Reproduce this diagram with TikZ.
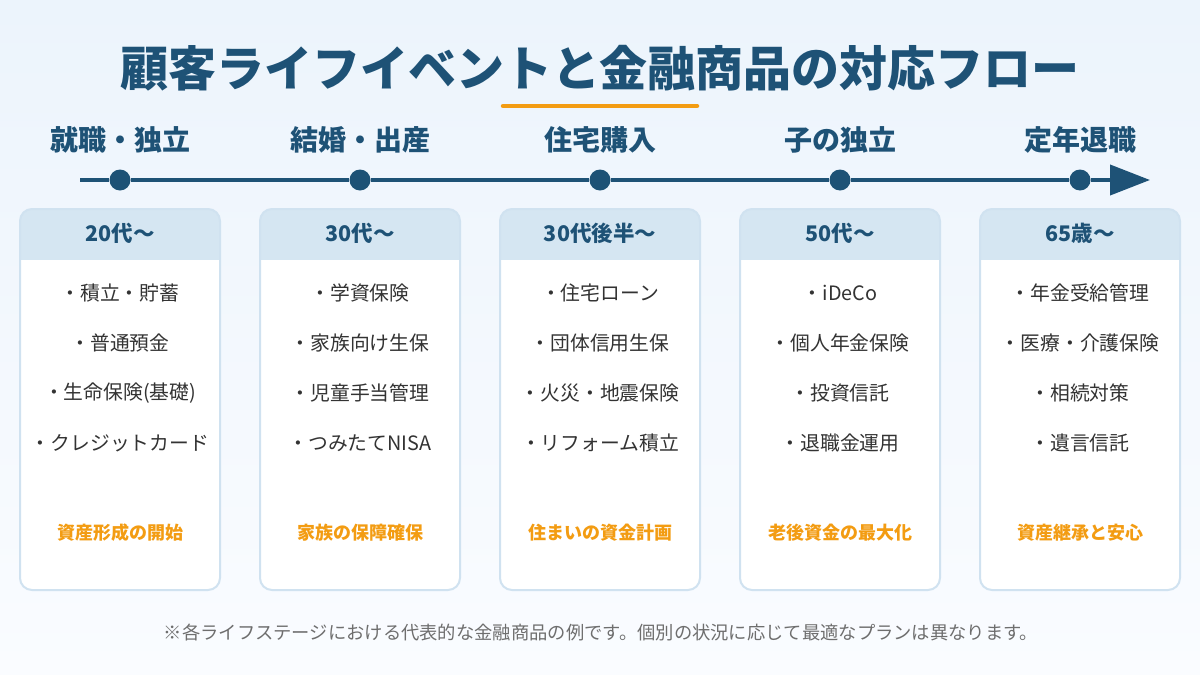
\documentclass[tikz,border=0pt]{standalone}
\usepackage{fontspec}
\setmainfont{Noto Sans CJK JP}
\usetikzlibrary{arrows.meta}
\definecolor{navy}{RGB}{30,82,118}
\definecolor{headblue}{RGB}{213,230,242}
\definecolor{cardline}{RGB}{208,226,240}
\definecolor{accent}{RGB}{243,156,18}
\definecolor{itemgray}{RGB}{51,51,51}
\definecolor{notegray}{RGB}{110,110,110}
\definecolor{bgtop}{RGB}{236,244,252}
\definecolor{bgbot}{RGB}{250,252,255}

\begin{document}
\begin{tikzpicture}[x=1pt,y=-1pt,
    stagelabel/.style={font=\fontsize{28}{32}\selectfont\bfseries,text=navy,inner sep=0pt},
    agelabel/.style={font=\fontsize{21.5}{25}\selectfont\bfseries,text=navy,inner sep=0pt},
    itemlabel/.style={font=\fontsize{19.8}{23}\selectfont,text=itemgray,inner sep=0pt},
    goallabel/.style={font=\fontsize{18}{21}\selectfont\bfseries,text=accent,inner sep=0pt},
    stagedot/.style={circle,fill=navy,minimum size=21pt,inner sep=0pt},
    cardframe/.style={draw=cardline,line width=2pt,rounded corners=12pt}]
        \useasboundingbox (0,0) rectangle (1200,675);
        \shade[top color=bgtop,bottom color=bgbot] (0,0) rectangle (1200,675);

        % title
        \node[font=\fontsize{48}{54}\selectfont\bfseries,text=navy,inner sep=0pt] (title) at (600,68) {顧客ライフイベントと金融商品の対応フロー};
        \coordinate (ul1) at (503,106);
        \coordinate (ul2) at (697,106);
        \draw[accent,line width=4.5pt,line cap=round] (ul1) -- (ul2);

        % timeline
        \coordinate (tstart) at (80,180);
        \coordinate (tend) at (1150,180);
        \node[stagedot] (d1) at (120,180) {};
        \node[stagedot] (d2) at (360,180) {};
        \node[stagedot] (d3) at (600,180) {};
        \node[stagedot] (d4) at (840,180) {};
        \node[stagedot] (d5) at (1080,180) {};
        \draw[navy,line width=4pt,-{Triangle[length=40pt,width=30pt]}] (tstart) -- (d1) -- (d2) -- (d3) -- (d4) -- (d5) -- (tend);

        \node[stagelabel] (s1) at (120,140) {就職・独立};
        \node[stagelabel] (s2) at (360,140) {結婚・出産};
        \node[stagelabel] (s3) at (600,140) {住宅購入};
        \node[stagelabel] (s4) at (840,140) {子の独立};
        \node[stagelabel] (s5) at (1080,140) {定年退職};

        % cards
        \begin{scope}
            \clip[rounded corners=12pt] (20,209) rectangle (220,590);
            \fill[white] (20,209) rectangle (220,590);
            \fill[headblue] (20,209) rectangle (220,260);
        \end{scope}
        \draw[cardframe] (20,209) rectangle (220,590);
        \begin{scope}
            \clip[rounded corners=12pt] (260,209) rectangle (460,590);
            \fill[white] (260,209) rectangle (460,590);
            \fill[headblue] (260,209) rectangle (460,260);
        \end{scope}
        \draw[cardframe] (260,209) rectangle (460,590);
        \begin{scope}
            \clip[rounded corners=12pt] (500,209) rectangle (700,590);
            \fill[white] (500,209) rectangle (700,590);
            \fill[headblue] (500,209) rectangle (700,260);
        \end{scope}
        \draw[cardframe] (500,209) rectangle (700,590);
        \begin{scope}
            \clip[rounded corners=12pt] (740,209) rectangle (940,590);
            \fill[white] (740,209) rectangle (940,590);
            \fill[headblue] (740,209) rectangle (940,260);
        \end{scope}
        \draw[cardframe] (740,209) rectangle (940,590);
        \begin{scope}
            \clip[rounded corners=12pt] (980,209) rectangle (1180,590);
            \fill[white] (980,209) rectangle (1180,590);
            \fill[headblue] (980,209) rectangle (1180,260);
        \end{scope}
        \draw[cardframe] (980,209) rectangle (1180,590);

        \node[agelabel] (h1) at (120,233) {20代〜};
        \node[itemlabel] (a1) at (120,293) {・積立・貯蓄};
        \node[itemlabel] (a2) at (120,343) {・普通預金};
        \node[itemlabel] (a3) at (120,393) {・生命保険(基礎)};
        \node[itemlabel] (a4) at (120,443) {・クレジットカード};
        \node[goallabel] (g1) at (120,533) {資産形成の開始};

        \node[agelabel] (h2) at (360,233) {30代〜};
        \node[itemlabel] (b1) at (360,293) {・学資保険};
        \node[itemlabel] (b2) at (360,343) {・家族向け生保};
        \node[itemlabel] (b3) at (360,393) {・児童手当管理};
        \node[itemlabel] (b4) at (360,443) {・つみたてNISA};
        \node[goallabel] (g2) at (360,533) {家族の保障確保};

        \node[agelabel] (h3) at (600,233) {30代後半〜};
        \node[itemlabel] (c1) at (600,293) {・住宅ローン};
        \node[itemlabel] (c2) at (600,343) {・団体信用生保};
        \node[itemlabel] (c3) at (600,393) {・火災・地震保険};
        \node[itemlabel] (c4) at (600,443) {・リフォーム積立};
        \node[goallabel] (g3) at (600,533) {住まいの資金計画};

        \node[agelabel] (h4) at (840,233) {50代〜};
        \node[itemlabel] (e1) at (840,293) {・iDeCo};
        \node[itemlabel] (e2) at (840,343) {・個人年金保険};
        \node[itemlabel] (e3) at (840,393) {・投資信託};
        \node[itemlabel] (e4) at (840,443) {・退職金運用};
        \node[goallabel] (g4) at (840,533) {老後資金の最大化};

        \node[agelabel] (h5) at (1080,233) {65歳〜};
        \node[itemlabel] (f1) at (1080,293) {・年金受給管理};
        \node[itemlabel] (f2) at (1080,343) {・医療・介護保険};
        \node[itemlabel] (f3) at (1080,393) {・相続対策};
        \node[itemlabel] (f4) at (1080,443) {・遺言信託};
        \node[goallabel] (g5) at (1080,533) {資産継承と安心};

        % note
        \node[font=\fontsize{18.3}{22}\selectfont,text=notegray,inner sep=0pt] (note) at (601,633) {※各ライフステージにおける代表的な金融商品の例です。個別の状況に応じて最適なプランは異なります。};
\end{tikzpicture}
\end{document}
